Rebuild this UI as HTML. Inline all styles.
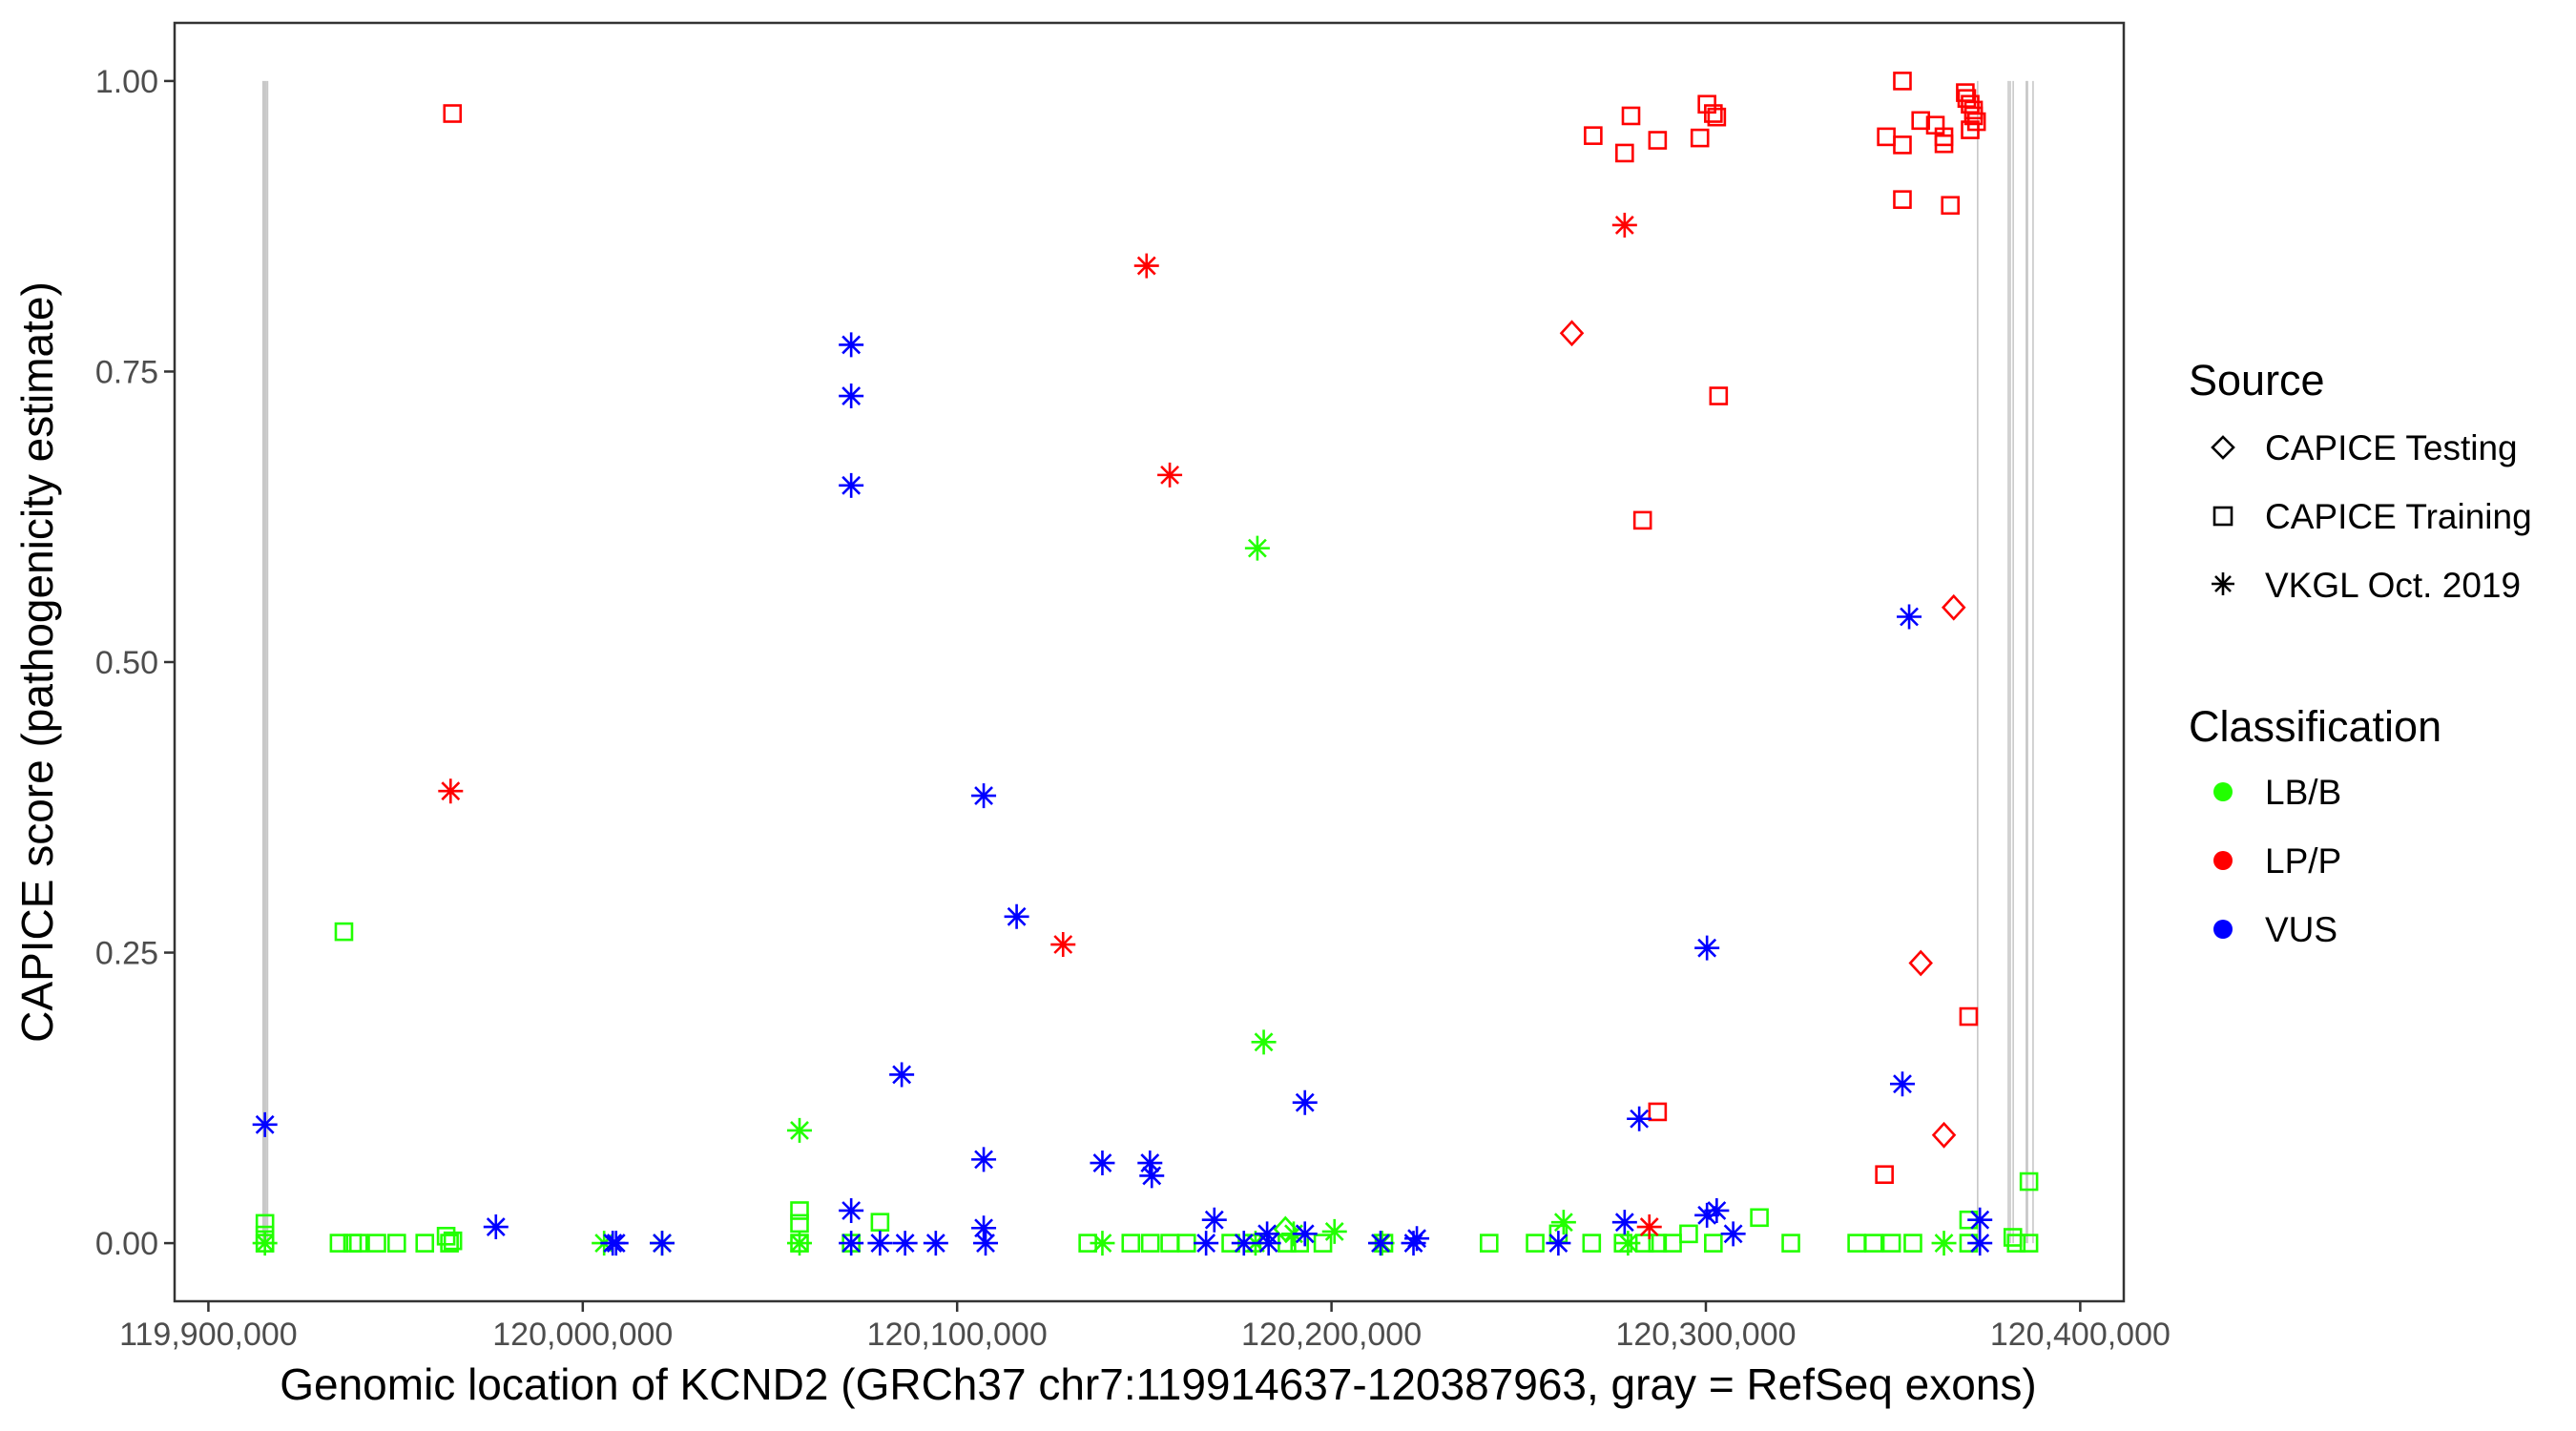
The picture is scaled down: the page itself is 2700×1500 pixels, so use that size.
<!DOCTYPE html>
<html><head><meta charset="utf-8"><style>
html,body{margin:0;padding:0;background:#fff;}
svg{display:block;font-family:"Liberation Sans",Arial,sans-serif;}
</style></head><body>
<svg id="chart" width="2700" height="1500" viewBox="0 0 2700 1500" xmlns="http://www.w3.org/2000/svg">
<rect x="0" y="0" width="2700" height="1500" fill="#fff"/>
<g id="exons"></g>
<g id="points"></g>
<rect x="183" y="24" width="2043" height="1340" fill="none" stroke="#333" stroke-width="2.5"/>
<g id="xaxis"></g>
<g id="yaxis"></g>
<text x="1214" y="1467" font-size="46" text-anchor="middle" fill="#000">Genomic location of KCND2 (GRCh37 chr7:119914637-120387963, gray = RefSeq exons)</text>
<text transform="translate(55,694) rotate(-90)" font-size="46" text-anchor="middle" fill="#000">CAPICE score (pathogenicity estimate)</text>
<g id="legend">
<text x="2294" y="414" font-size="45" fill="#000">Source</text>
<g>
<polygon points="2330,458 2341,469 2330,480 2319,469" fill="none" stroke="#000" stroke-width="2.6"/>
<text x="2374" y="482" font-size="37" fill="#000">CAPICE Testing</text></g>
<g>
<rect x="2321" y="532" width="18" height="18" fill="none" stroke="#000" stroke-width="2.6"/>
<text x="2374" y="554" font-size="37" fill="#000">CAPICE Training</text></g>
<g>
<path d="M2330,600V624M2318,612H2342M2322,604L2338,620M2322,620L2338,604" stroke="#000" stroke-width="2.6"/>
<text x="2374" y="626" font-size="37" fill="#000">VKGL Oct. 2019</text></g>
<text x="2294" y="777" font-size="45" fill="#000">Classification</text>
<g><circle cx="2330" cy="830" r="10" fill="#22ff00"/><text x="2374" y="843" font-size="37" fill="#000">LB/B</text></g>
<g><circle cx="2330" cy="902" r="10" fill="#ff0000"/><text x="2374" y="915" font-size="37" fill="#000">LP/P</text></g>
<g><circle cx="2330" cy="974" r="10" fill="#0000ff"/><text x="2374" y="987" font-size="37" fill="#000">VUS</text></g>
</g>
</svg>
<script>
// ---- data (positions in kb on chr7, scores) ----
const xTicks = [119900, 120000, 120100, 120200, 120300, 120400];
const xTickLabels = ["119,900,000","120,000,000","120,100,000","120,200,000","120,300,000","120,400,000"];
const yTicks = [0, 0.25, 0.5, 0.75, 1.0];
const yTickLabels = ["0.00","0.25","0.50","0.75","1.00"];
const exonPos = [119914.6, 119915.0, 119915.4, 119915.8, 120372.6, 120380.8, 120381.3, 120382.1, 120385.6, 120385.9, 120387.4];

// LP/P
const lppTrainX = [119965.2,120269.9,120280.0,120278.3,120287.1,120298.4,120300.3,120302.0,120302.9,120303.4,120283.1,120287.1,120352.5,120348.2,120352.5,120357.4,120361.3,120363.6,120363.6,120352.5,120365.3,120369.3,120369.7,120370.6,120371.5,120372.3,120371.5,120370.6,120370.2,120347.7];
const lppTrainY = [0.972,0.953,0.970,0.938,0.949,0.951,0.980,0.972,0.969,0.729,0.622,0.113,1.000,0.952,0.945,0.966,0.962,0.952,0.946,0.898,0.893,0.990,0.985,0.980,0.970,0.965,0.975,0.958,0.195,0.059];
const lppTestX = [120264.2,120366.2,120357.4,120363.6];
const lppTestY = [0.783,0.547,0.241,0.093];
const lppVkglX = [119964.7,120150.6,120156.8,120128.3,120278.3,120284.9];
const lppVkglY = [0.389,0.841,0.661,0.257,0.876,0.014];

// VUS
const vusVkglX = [119915.1,119976.8,120008.0,120008.9,120021.2,120071.7,120071.7,120071.7,120071.7,120071.7,120079.4,120085.2,120086.1,120094.3,120107.1,120107.1,120107.1,120107.6,120115.9,120138.8,120151.5,120152.0,120166.5,120168.7,120176.6,120182.8,120183.2,120192.9,120192.9,120213.1,120221.9,120222.8,120260.6,120278.3,120282.2,120300.3,120300.3,120302.9,120307.3,120352.5,120354.3,120373.2,120373.2];
const vusVkglY = [0.102,0.014,0,0,0,0.773,0.729,0.652,0.028,0,0,0.145,0,0,0.385,0.072,0.013,0,0.281,0.069,0.069,0.058,0,0.020,0,0.008,0,0.008,0.121,0,0,0.004,0,0.018,0.107,0.254,0.024,0.028,0.008,0.137,0.539,0.020,0];

// LB/B
const lbbVkglX = [120057.9,120180.2,120181.9,119915.1,120005.7,120021.2,120057.9,120138.8,120179.7,120189.9,120200.8,120213.5,120262.0,120279.2,120363.6];
const lbbVkglY = [0.097,0.598,0.173,0,0,0,0,0,0,0.008,0.010,0,0.018,0,0];
const lbbTrainX = [119936.2,119915.1,119915.1,119915.1,119934.9,119938.5,119940.1,119945.0,119950.3,119957.8,119963.5,119964.4,119965.3,120057.9,120057.9,120057.9,120071.7,120079.4,120134.9,120146.4,120151.6,120156.8,120161.3,120173.1,120178.8,120188.1,120191.5,120197.7,120214.0,120242.1,120254.4,120260.6,120269.5,120277.9,120283.6,120287.1,120291.1,120295.4,120302.0,120314.3,120322.7,120340.3,120344.8,120349.6,120355.3,120370.2,120370.2,120382.0,120386.3,120386.3,120382.9];
const lbbTrainY = [0.268,0.017,0.007,0,0,0,0,0,0,0,0.006,0,0.002,0.028,0.017,0,0,0.018,0,0,0,0,0,0,0,0,0,0,0,0,0,0.008,0,0,0,0,0,0.008,0,0.022,0,0,0,0,0,0.020,0,0.005,0.053,0,0];
const lbbTestX = [120187.7];
const lbbTestY = [0.012];

// ---- scales ----
const X0 = 183, X1 = 2226, Y0 = 24, Y1 = 1364;
const dMin = 119914.637, dMax = 120387.963, ex = (dMax - dMin) * 0.05;
const xMin = dMin - ex, xMax = dMax + ex, yMin = -0.05, yMax = 1.05;
function sx(v){ return X0 + (v - xMin) / (xMax - xMin) * (X1 - X0); }
function sy(v){ return Y1 - (v - yMin) / (yMax - yMin) * (Y1 - Y0); }

const NS = "http://www.w3.org/2000/svg";
function mk(tag, attrs, parent){ const e = document.createElementNS(NS, tag); for (const k in attrs) e.setAttribute(k, attrs[k]); parent.appendChild(e); return e; }

// exons
const gEx = document.getElementById("exons");
exonPos.forEach((p) => {
  const l = mk("line", {x1: sx(p), x2: sx(p), y1: sy(0), y2: sy(1), stroke: "#c8c8c8", "stroke-width": 1.6}, gEx);
  
  
});

// axes
const gx = document.getElementById("xaxis");
xTicks.forEach((t, i) => {
  const l = mk("line", {x1: sx(t), x2: sx(t), y1: Y1, y2: Y1 + 11, stroke: "#333", "stroke-width": 2.5}, gx);
  
  
  const tx = mk("text", {x: sx(t), y: Y1 + 46, "font-size": 34, "text-anchor": "middle", fill: "#4d4d4d"}, gx);
  tx.textContent = xTickLabels[i];
  
  
});
const gy = document.getElementById("yaxis");
yTicks.forEach((t, i) => {
  const l = mk("line", {x1: X0 - 11, x2: X0, y1: sy(t), y2: sy(t), stroke: "#333", "stroke-width": 2.5}, gy);
  
  
  const tx = mk("text", {x: X0 - 17, y: sy(t) + 12, "font-size": 34, "text-anchor": "end", fill: "#4d4d4d"}, gy);
  tx.textContent = yTickLabels[i];
  
  
});

// points
const gp = document.getElementById("points");
function square(x, y, c){ return mk("rect", {x: x - 8.5, y: y - 8.5, width: 17, height: 17, fill: "none", stroke: c, "stroke-width": 2.6}, gp); }
function diamond(x, y, c){ return mk("polygon", {points: `${x},${y-12} ${x+11},${y} ${x},${y+12} ${x-11},${y}`, fill: "none", stroke: c, "stroke-width": 2.6}, gp); }
function star(x, y, c){ return mk("path", {d: `M${x},${y-13}V${y+13}M${x-13},${y}H${x+13}M${x-9},${y-9}L${x+9},${y+9}M${x-9},${y+9}L${x+9},${y-9}`, fill: "none", stroke: c, "stroke-width": 2.6}, gp); }
function draw(xs, ys, fn, c){
  xs.forEach((v, i) => {
    const el = fn(sx(v), sy(ys[i]), c);
    
    
  });
}
const GREEN = "#22ff00", RED = "#ff0000", BLUE = "#0000ff";
draw(lbbTrainX, lbbTrainY, square, GREEN);
draw(lbbTestX, lbbTestY, diamond, GREEN);
draw(lbbVkglX, lbbVkglY, star, GREEN);
draw(lppTrainX, lppTrainY, square, RED);
draw(lppTestX, lppTestY, diamond, RED);
draw(lppVkglX, lppVkglY, star, RED);
draw(vusVkglX, vusVkglY, star, BLUE);
</script>
</body></html>
